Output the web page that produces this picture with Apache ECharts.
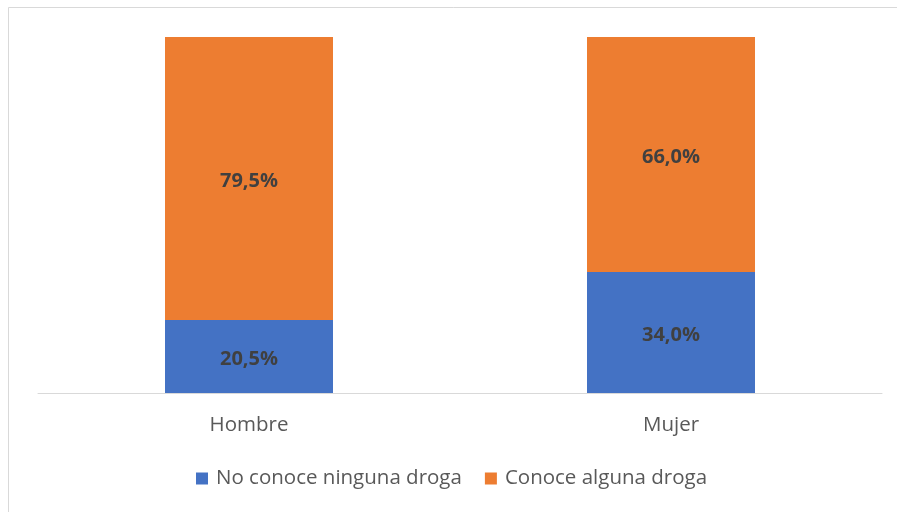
<!DOCTYPE html>
<html><head><meta charset="utf-8">
<script src="https://cdn.jsdelivr.net/npm/echarts@6/dist/echarts.min.js"></script>
<style>html,body{margin:0;padding:0;background:#fff}#c{width:897px;height:512px}</style>
</head><body><div id="c"></div>
<script>
const categories = ['Hombre', 'Mujer'];
const noConoce = [20.5, 34.0];
const conoce = [79.5, 66.0];
const seriesNames = ['No conoce ninguna droga', 'Conoce alguna droga'];

const FONT = 'Open Sans';
const chart = echarts.init(document.getElementById('c'), null, {renderer: 'canvas'});
const fmt = p => p.value.toFixed(1).replace('.', ',') + '%';
const lbl = {show: true, position: 'inside', offset: [0, 3], formatter: fmt, color: '#404040', fontWeight: 'bold', fontSize: 20, fontFamily: FONT};
chart.setOption({
  animation: false,
  backgroundColor: '#fff',
  graphic: [{type: 'rect', shape: {x: 8.5, y: 7.5, width: 920, height: 530}, style: {fill: 'none', stroke: '#d9d9d9', lineWidth: 1}, silent: true}],
  grid: {left: 38, right: 15, top: 37, bottom: 119},
  legend: {
    top: 468, left: 196, padding: 0, itemWidth: 12, itemHeight: 12, itemGap: 23,
    icon: 'rect',
    textStyle: {color: '#595959', fontSize: 20.5, fontFamily: FONT, padding: [0, 0, 0, 3]},
    data: seriesNames
  },
  xAxis: {
    type: 'category', data: categories,
    axisLine: {lineStyle: {color: '#d9d9d9', width: 1}},
    axisTick: {show: false},
    axisLabel: {color: '#595959', fontSize: 20.5, fontFamily: FONT, margin: 22}
  },
  yAxis: {type: 'value', min: 0, max: 100, show: false, splitLine: {show: false}},
  series: [
    {name: seriesNames[0], type: 'bar', stack: 'a', data: noConoce, barWidth: 168, itemStyle: {color: '#4472c4'}, label: lbl},
    {name: seriesNames[1], type: 'bar', stack: 'a', data: conoce, barWidth: 168, itemStyle: {color: '#ed7d31'}, label: lbl}
  ]
});
</script></body></html>
